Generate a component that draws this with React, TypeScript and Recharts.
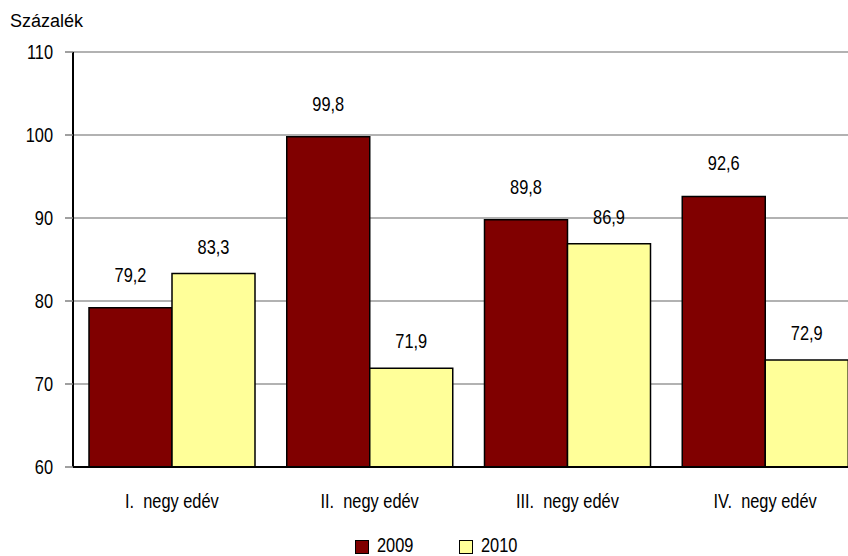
import React from 'react';
import { BarChart, Bar, XAxis, YAxis, CartesianGrid, LabelList } from 'recharts';

const quarters = ['I.  negy edév', 'II.  negy edév', 'III.  negy edév', 'IV.  negy edév'];
const values2009 = [79.2, 99.8, 89.8, 92.6];
const values2010 = [83.3, 71.9, 86.9, 72.9];
const yTicks = [60, 70, 80, 90, 100, 110];
const seriesNames = ['2009', '2010'];

const data = quarters.map((q, i) => ({ quarter: q, y2009: values2009[i], y2010: values2010[i] }));

const FONT = '"Liberation Sans", Arial, sans-serif';
const NARROW = 0.82; // the original uses a condensed Arial
const fmt = (v: any) => Number(v).toFixed(1).replace('.', ',');

const colors = ['#800000', '#FFFF99'];

// condensed text drawn at an anchor point
const NarrowText = ({ x, y, anchor, dy, children }: any) => (
    <text
        transform={`translate(${x},${y}) scale(${NARROW},1)`}
        textAnchor={anchor}
        dy={dy}
        fontSize={20}
        fontFamily={FONT}
        fill="#000"
        style={{ whiteSpace: 'pre' }}
        xmlSpace="preserve"
    >
        {children}
    </text>
);

const YTick = ({ x, y, payload }: any) => (
    <NarrowText x={x} y={y} anchor="end" dy="0.355em">{payload.value}</NarrowText>
);

const XTick = ({ x, y, payload }: any) => (
    <NarrowText x={x} y={y} anchor="middle" dy={0}>{payload.value}</NarrowText>
);

const makeLabel = (offset: number) => (props: any) => {
    const { x, y, width, value } = props;
    return <NarrowText x={x + width / 2} y={y - offset} anchor="middle" dy={0}>{fmt(value)}</NarrowText>;
};

const App: React.FC = () => {
    return (
        <div style={{ position: 'absolute', left: 0, top: 0, width: 848, height: 556, overflow: 'hidden', background: '#fff', fontFamily: FONT }}>
            {/* unit title */}
            <div style={{ position: 'absolute', left: 10, top: 12, fontSize: 18, lineHeight: '18px', color: '#000' }}>Százalék</div>

            <BarChart
                width={870}
                height={556}
                data={data}
                margin={{ top: 52, right: 6, bottom: 0, left: 0 }}
                barCategoryGap={16}
                barGap={0}
            >
                <CartesianGrid vertical={false} stroke="#999999" strokeWidth={1.5} />
                <XAxis
                    dataKey="quarter"
                    height={89}
                    tickLine={false}
                    tickSize={0}
                    tickMargin={41}
                    axisLine={{ stroke: '#000', strokeWidth: 2 }}
                    tick={<XTick />}
                    interval={0}
                />
                <YAxis
                    width={73}
                    domain={[60, 110]}
                    ticks={yTicks}
                    allowDataOverflow
                    tickSize={8}
                    tickMargin={12}
                    tickLine={{ stroke: '#808080', strokeWidth: 1.5 }}
                    axisLine={{ stroke: '#000', strokeWidth: 2 }}
                    tick={<YTick />}
                />
                <Bar dataKey="y2009" name={seriesNames[0]} fill={colors[0]} stroke="#000" strokeWidth={1.5} isAnimationActive={false}>
                    <LabelList dataKey="y2009" content={makeLabel(26)} />
                </Bar>
                <Bar dataKey="y2010" name={seriesNames[1]} fill={colors[1]} stroke="#000" strokeWidth={1.5} isAnimationActive={false}>
                    <LabelList dataKey="y2010" content={makeLabel(20)} />
                </Bar>
            </BarChart>

            {/* legend */}
            {seriesNames.map((name, i) => (
                <div key={name} style={{ position: 'absolute', left: 355 + i * 104, top: 535, height: 20, width: 90 }}>
                    <div style={{ position: 'absolute', left: 0, top: 5, width: 12, height: 12, background: colors[i], border: '1.5px solid #000' }} />
                    <span style={{ position: 'absolute', left: 22, top: 0, fontSize: 20, lineHeight: '20px', color: '#000', transform: `scaleX(${NARROW})`, transformOrigin: 'left' }}>{name}</span>
                </div>
            ))}
        </div>
    );
};

export default App;
